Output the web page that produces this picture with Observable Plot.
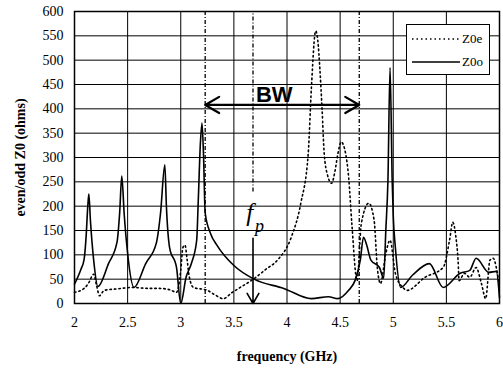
<!DOCTYPE html>
<html><head><meta charset="utf-8">
<script src="https://cdn.jsdelivr.net/npm/d3@7"></script>
<script src="https://cdn.jsdelivr.net/npm/@observablehq/plot@0.6"></script>
<style>
body{margin:0;background:#fff;}
#wrap{position:relative;width:503px;height:371px;}
#wrap svg g[aria-label="x-axis tick label"], #wrap svg g[aria-label="y-axis tick label"]{font-family:"Liberation Serif","Times New Roman",serif !important;font-size:14px;}
.legend{position:absolute;left:406px;top:24px;width:82px;height:49px;border:1px solid #000;background:#fff;font-family:"Liberation Serif","Times New Roman",serif;font-size:13px;}
.legend div{position:absolute;left:5px;display:flex;align-items:center;}
</style></head><body>
<div id="wrap"></div>
<script>
const z0eFreq = [2.0,2.09,2.13,2.18,2.21,2.235,2.28,2.4,2.55,2.7,2.8,2.9,2.96,3.0,3.02,3.04,3.06,3.08,3.12,3.25,3.32,3.4,3.48,3.56,3.69,3.8,3.91,4.04,4.13,4.2,4.23,4.27,4.29,4.31,4.33,4.35,4.38,4.42,4.45,4.48,4.51,4.55,4.58,4.61,4.66,4.7,4.77,4.82,4.85,4.88,4.93,4.97,5.02,5.09,5.13,5.3,5.47,5.53,5.56,5.59,5.61,5.62,5.67,5.72,5.78,5.83,5.87,5.91,5.94,5.97,6.0];
const z0eVal  = [23,31,41,60,35,16,27,30,33,31,31,28,23,68,115,120,90,55,33,27,18,10,22,33,51,70,89,136,206,309,445,560,540,480,400,309,265,247,270,309,332,310,260,165,47,165,206,171,74,41,103,130,62,33,27,54,74,130,167,136,89,47,62,54,74,41,10,89,93,74,33];
const z0oFreq = [2.0,2.06,2.09,2.11,2.125,2.135,2.15,2.18,2.22,2.32,2.40,2.425,2.445,2.467,2.5,2.56,2.67,2.77,2.81,2.85,2.865,2.895,2.96,3.0,3.05,3.1,3.15,3.165,3.185,3.2,3.215,3.23,3.28,3.34,3.5,3.69,3.97,4.23,4.39,4.48,4.58,4.64,4.69,4.72,4.75,4.79,4.87,4.91,4.93,4.95,4.97,4.99,5.0,5.02,5.07,5.18,5.34,5.47,5.63,5.72,5.78,5.9,5.97,6.0];
const z0oVal  = [40,70,90,140,200,225,170,90,35,82,126,186,262,186,103,33,82,124,186,285,200,115,74,0,54,82,130,212,330,371,300,186,144,120,78,50,31,10,14,10,27,47,89,136,120,89,74,52,150,253,485,253,180,115,33,58,82,33,62,68,93,64,66,12];
const xTicks = [2,2.5,3,3.5,4,4.5,5,5.5,6];
const yTicks = [0,50,100,150,200,250,300,350,400,450,500,550,600];
const bwEdges = [3.23,4.68];
const fp = 3.68;
const bwLabel = "BW";
const xLabel = "frequency (GHz)";
const yLabel = "even/odd Z0 (ohms)";
const seriesNames = ["Z0e","Z0o"];

const serif = "Liberation Serif, Times New Roman, serif";
const z0e = z0eFreq.map((f,i)=>({f, v:z0eVal[i]}));
const z0o = z0oFreq.map((f,i)=>({f, v:z0oVal[i]}));
const bwMid = (bwEdges[0]+bwEdges[1])/2;

const chart = Plot.plot({
  width:503, height:371,
  marginLeft:74, marginRight:4, marginTop:11, marginBottom:68,
  x:{domain:[2,6], ticks:xTicks},
  y:{domain:[0,600], ticks:yTicks},
  style:"font-family:'Liberation Serif','Times New Roman',serif;font-size:14px;color:#000;background:#fff;",
  marks:[
    Plot.axisX({ticks:xTicks, tickSize:0, tickPadding:14, fontSize:14, fontFamily:serif, tickFormat:d=>String(d), label:null}),
    Plot.axisY({ticks:yTicks, tickSize:0, tickPadding:11, fontSize:14, fontFamily:serif, tickFormat:d=>String(d), label:null}),
    Plot.tickX(xTicks, {x:d=>d, y1:0, y2:6, stroke:"#000", strokeWidth:1}),
    Plot.tickY(yTicks, {y:d=>d, x1:2, x2:2.025, stroke:"#000", strokeWidth:1}),
    Plot.ruleX(bwEdges, {x:d=>d, y1:0, y2:600, stroke:"#000", strokeWidth:1.3, strokeDasharray:"4,2,1,2"}),
    Plot.ruleX([fp], {x:d=>d, y1:229, y2:600, stroke:"#000", strokeWidth:1.3, strokeDasharray:"4,2,1,2"}),
    Plot.line(z0e, {x:"f", y:"v", stroke:"#000", strokeWidth:1.6, strokeDasharray:"1.5,3", curve:"monotone-x"}),
    Plot.line(z0o, {x:"f", y:"v", stroke:"#000", strokeWidth:1.6, curve:"monotone-x"}),
    Plot.arrow([{x1:bwMid,x2:bwEdges[0]},{x1:bwMid,x2:bwEdges[1]}], {x1:"x1", x2:"x2", y1:408, y2:408, stroke:"#000", strokeWidth:2.2, headLength:11}),
    Plot.arrow([{y1:134,y2:0}], {x1:()=>fp, x2:()=>fp, y1:"y1", y2:"y2", stroke:"#000", strokeWidth:1.6, headLength:11}),
    Plot.text([bwLabel], {x:()=>3.88, y:()=>429, text:d=>d, fontFamily:"Liberation Sans, Arial, sans-serif", fontWeight:"bold", fontSize:22, fill:"#000"}),
    Plot.text(["f"], {x:()=>fp-0.03, y:()=>186, text:d=>d, fontFamily:serif, fontStyle:"italic", fontSize:25, fill:"#000"}),
    Plot.text(["p"], {x:()=>fp+0.06, y:()=>158, text:d=>d, fontFamily:serif, fontStyle:"italic", fontSize:18, fill:"#000"}),
    Plot.text([xLabel], {x:()=>4, y:()=>0, dy:53, text:d=>d, fontFamily:serif, fontWeight:"bold", fontSize:14, fill:"#000"}),
    Plot.text([yLabel], {x:()=>2, y:()=>300, dx:-54, rotate:-90, text:d=>d, fontFamily:serif, fontWeight:"bold", fontSize:14, fill:"#000"}),
    Plot.frame({stroke:"#000", strokeWidth:1.5})
  ]
});
const wrap = document.getElementById("wrap");
wrap.appendChild(chart);
const leg = document.createElement("div");
leg.className = "legend";
leg.innerHTML = `<div style="top:6px"><svg width="48" height="12"><line x1="0" y1="6" x2="48" y2="6" stroke="#000" stroke-width="1.6" stroke-dasharray="1.5,3"/></svg><span style="margin-left:2px">${seriesNames[0]}</span></div>
<div style="top:29px"><svg width="48" height="12"><line x1="0" y1="6" x2="48" y2="6" stroke="#000" stroke-width="1.6"/></svg><span style="margin-left:2px">${seriesNames[1]}</span></div>`;
wrap.appendChild(leg);
</script>
</body></html>
